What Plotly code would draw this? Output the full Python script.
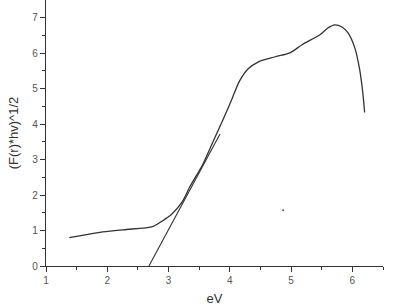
import plotly.graph_objects as go

ev = [1.38, 1.88, 2.26, 2.75, 2.89, 3.05, 3.22, 3.35, 3.56, 3.72, 3.89, 4.03, 4.16, 4.30, 4.46, 4.74, 4.98, 5.18, 5.47, 5.6, 5.71, 5.83, 5.93, 6.04, 6.12, 6.17, 6.2]
fr = [0.80, 0.95, 1.02, 1.12, 1.26, 1.46, 1.80, 2.24, 2.87, 3.48, 4.13, 4.69, 5.22, 5.56, 5.75, 5.90, 6.01, 6.24, 6.52, 6.71, 6.80, 6.74, 6.57, 6.15, 5.53, 4.89, 4.33]

tan_x = [2.68, 3.84]
tan_y = [0.0, 3.72]

dot_x = [4.87]
dot_y = [1.57]

fig = go.Figure()
fig.add_trace(go.Scatter(x=ev, y=fr, mode="lines", line=dict(color="#333333", width=1.3, shape="spline", smoothing=0.9), showlegend=False))
fig.add_trace(go.Scatter(x=tan_x, y=tan_y, mode="lines", line=dict(color="#333333", width=1.1), showlegend=False))
fig.add_trace(go.Scatter(x=dot_x, y=dot_y, mode="markers", marker=dict(color="#555555", size=2), showlegend=False))

tickfont = dict(family="Liberation Sans, Arial", size=10, color="#555555")
titlefont = dict(family="Liberation Sans, Arial", size=13, color="#333333")
fig.update_layout(
    width=418, height=307,
    margin=dict(l=46, r=35, t=0, b=41),
    paper_bgcolor="white", plot_bgcolor="white",
    xaxis=dict(range=[1, 6.5], tickvals=[1, 2, 3, 4, 5, 6], showgrid=False, zeroline=False,
               showline=True, linecolor="#333333", linewidth=1.2, ticks="outside", ticklen=5,
               tickcolor="#333333", tickfont=tickfont,
               minor=dict(tickvals=[1.5, 2.5, 3.5, 4.5, 5.5, 6.5], ticks="outside", ticklen=3, tickcolor="#333333"),
               title=dict(text="eV", font=titlefont, standoff=8)),
    yaxis=dict(range=[0, 7.5], tickvals=[0, 1, 2, 3, 4, 5, 6, 7], showgrid=False, zeroline=False,
               showline=True, linecolor="#333333", linewidth=1.2, ticks="outside", ticklen=5,
               tickcolor="#333333", tickfont=tickfont,
               minor=dict(tickvals=[0.5, 1.5, 2.5, 3.5, 4.5, 5.5, 6.5], ticks="outside", ticklen=3, tickcolor="#333333"),
               title=dict(text="(F(r)*hv)^1/2", font=titlefont, standoff=10)),
)
fig.write_html("out.html")
